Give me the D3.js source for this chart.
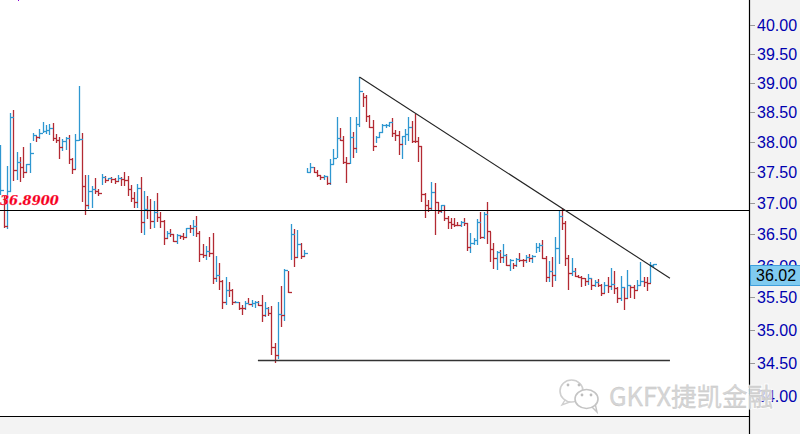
<!DOCTYPE html>
<html>
<head>
<meta charset="utf-8">
<script src="https://cdn.jsdelivr.net/npm/d3@7/dist/d3.min.js"></script>
<style>
html, body { margin: 0; padding: 0; background: #fff; overflow: hidden; }
svg { display: block; }
</style>
</head>
<body>
<svg width="800" height="434"></svg>
<script>
// bars are high / low / close, one entry per session
const highs = [37.95,37.13,37.60,38.49,38.54,37.84,37.75,37.92,37.64,37.99,
  38.15,38.10,38.22,38.34,38.29,38.30,38.32,38.14,38.09,38.05,
  38.09,38.12,37.74,38.14,38.94,38.15,37.46,37.46,37.28,37.41,
  37.23,37.47,37.44,37.41,37.42,37.41,37.46,37.42,37.51,37.44,
  37.29,37.18,37.31,37.42,37.19,37.11,37.06,37.03,37.16,36.85,
  36.73,36.55,36.58,36.50,36.50,36.48,36.52,36.60,36.65,36.73,
  36.79,36.55,36.34,36.31,36.45,36.52,36.15,36.04,35.77,35.82,
  35.74,35.63,35.44,35.43,35.38,35.44,35.49,35.46,35.44,35.44,
  35.54,35.43,35.35,35.37,34.80,35.43,35.68,35.95,35.91,36.66,
  36.58,36.57,36.36,36.25,37.57,37.65,37.59,37.54,37.46,37.46,
  37.44,37.72,37.89,38.42,38.24,38.10,37.75,38.42,38.17,38.42,
  39.10,38.83,38.79,38.45,38.37,38.10,38.17,38.30,38.30,38.34,
  38.40,38.20,38.19,38.10,38.22,38.42,38.35,38.47,38.09,37.94,
  37.16,37.05,37.34,37.33,37.02,36.97,36.97,36.79,36.76,36.76,
  36.69,36.71,36.76,36.68,36.52,36.44,36.74,36.85,36.85,37.02,
  36.53,36.36,36.23,36.25,36.34,36.18,36.10,36.04,36.12,36.20,
  36.10,36.17,36.18,36.17,36.36,36.36,36.41,36.15,36.07,36.14,
  36.45,36.89,36.92,36.71,36.17,36.12,35.96,35.85,35.84,35.80,
  35.87,35.80,35.77,35.79,35.71,35.74,35.82,35.96,35.91,35.66,
  35.84,35.66,35.93,35.69,35.69,35.77,36.06,35.82,35.82,36.06,36.02];
const lows = [37.13,36.60,36.58,37.18,37.36,37.37,37.34,37.41,37.49,37.49,
  38.02,38.00,38.05,38.15,38.14,38.12,38.02,37.99,37.72,37.85,
  37.87,37.64,37.47,37.56,38.02,37.02,36.81,36.90,36.92,37.15,
  37.11,37.29,37.33,37.37,37.33,37.31,37.34,37.28,37.28,37.11,
  37.02,36.92,36.92,36.52,36.48,36.74,36.58,36.60,36.69,36.60,
  36.33,36.42,36.45,36.37,36.34,36.42,36.41,36.44,36.52,36.47,
  36.45,36.06,36.12,36.09,36.14,35.71,35.74,35.62,35.32,35.38,
  35.51,35.38,35.41,35.31,35.23,35.31,35.40,35.35,35.34,35.37,
  35.12,35.20,35.21,34.62,34.49,34.56,35.05,35.14,35.57,36.09,
  35.98,36.12,36.10,36.14,37.49,37.51,37.49,37.42,37.37,37.37,
  37.29,37.29,37.62,37.74,38.02,37.64,37.33,37.64,37.74,37.82,
  38.25,38.59,38.34,38.24,37.85,37.99,38.07,38.15,38.24,38.25,
  38.09,38.02,37.79,37.72,37.95,38.02,37.99,37.99,37.67,37.02,
  36.76,36.85,36.89,36.48,36.82,36.84,36.71,36.58,36.58,36.61,
  36.63,36.61,36.63,36.23,36.20,36.33,36.33,36.42,36.42,36.34,
  36.06,35.95,35.93,36.04,36.04,35.99,35.91,35.95,35.98,36.06,
  35.98,36.04,36.06,36.04,36.20,36.21,36.10,35.74,35.74,35.66,
  35.76,36.02,36.57,35.99,35.62,35.84,35.82,35.80,35.66,35.68,
  35.69,35.62,35.66,35.66,35.52,35.57,35.57,35.62,35.55,35.41,
  35.44,35.31,35.48,35.49,35.48,35.62,35.68,35.66,35.60,35.73,35.96];
const closes = [37.21,36.63,37.19,38.42,37.54,37.67,37.59,37.51,37.64,37.82,
  38.12,38.09,38.15,38.19,38.20,38.24,38.07,38.04,37.92,38.02,
  38.07,37.72,37.56,38.04,38.05,37.28,36.97,37.19,37.23,37.19,
  37.16,37.42,37.37,37.41,37.39,37.36,37.41,37.39,37.38,37.23,
  37.08,37.02,37.24,36.69,36.90,36.89,36.71,36.85,36.77,36.71,
  36.44,36.52,36.50,36.39,36.48,36.47,36.46,36.60,36.59,36.63,
  36.52,36.18,36.17,36.23,36.20,35.80,35.85,35.76,35.43,35.62,
  35.61,35.43,35.43,35.34,35.33,35.41,35.40,35.41,35.43,35.38,
  35.23,35.34,35.26,34.74,34.62,35.24,35.23,35.93,35.59,36.50,
  36.14,36.34,36.15,36.20,37.51,37.59,37.51,37.46,37.42,37.44,
  37.33,37.64,37.74,38.07,38.04,37.67,37.66,38.09,37.90,38.30,
  38.86,38.76,38.44,38.25,37.94,38.09,38.17,38.29,38.29,38.34,
  38.15,38.12,37.97,38.10,38.14,38.25,38.02,38.01,37.94,37.15,
  36.97,36.92,37.18,37.02,36.87,36.97,36.76,36.69,36.66,36.65,
  36.64,36.69,36.68,36.29,36.36,36.41,36.69,36.45,36.82,36.55,
  36.26,36.12,36.21,36.14,36.17,36.01,36.09,36.01,36.10,36.09,
  36.08,36.14,36.12,36.15,36.29,36.33,36.12,35.82,35.91,35.85,
  36.28,36.79,36.68,36.12,35.88,35.91,35.84,35.82,35.80,35.76,
  35.80,35.69,35.74,35.69,35.57,35.69,35.68,35.71,35.65,35.49,
  35.66,35.49,35.69,35.66,35.62,35.69,35.76,35.74,35.73,36.01,36.02];

const tickValues = [40,39.5,39,38.5,38,37.5,37,36.5,36,35.5,35,34.5,34];
const lastPrice = closes[closes.length-1];
const levelPrice = 36.89;
const levelLabel = "36.8900";
const supportPrice = 34.54;
const supportIdx = [78.9, 205.1];
const trendIdx = [110, 205.1];
const trendPrice = [39.10, 35.80];

const upColour = "#2e97d1";
const downColour = "#b32a33";

const plotRight = 749;
const plotBottom = 416;

const svg = d3.select("svg");

// price axis is logarithmic, ticks get wider apart going down
const y = d3.scaleLog().domain([40,34]).range([25,396]);
const x = d3.scaleLinear().domain([0,200]).range([0.3,653.3]);

const px = v => Math.round(v) + 0.5;

// panel backgrounds
svg.append("rect").attr("width",800).attr("height",434).style("fill","#f3f3f3");
svg.append("rect").attr("width",plotRight).attr("height",plotBottom).style("fill","#fff");

// stray pixel at the top edge
svg.append("rect").attr("x",18).attr("y",0).attr("width",1).attr("height",1).style("fill","#8a00d8");

// bars
const bars = svg.append("g").style("stroke-width",1.3);
const barColour = i => (i == 0 || closes[i] >= closes[i-1]) ? upColour : downColour;

bars.selectAll("line.hl").data(closes).enter().append("line")
    .classed("hl", true)
    .attr("x1",(d,i)=>px(x(i)))
    .attr("x2",(d,i)=>px(x(i)))
    .attr("y1",(d,i)=>Math.round(y(highs[i])))
    .attr("y2",(d,i)=>Math.round(y(lows[i])))
    .style("stroke",(d,i)=>barColour(i));

bars.selectAll("line.close").data(closes).enter().append("line")
    .classed("close", true)
    .attr("x1",(d,i)=>px(x(i)))
    .attr("x2",(d,i)=>px(x(i))+3.5)
    .attr("y1",d=>px(y(d)))
    .attr("y2",d=>px(y(d)))
    .style("stroke",(d,i)=>barColour(i));

// drawn lines
svg.append("line")
    .attr("x1",0).attr("x2",plotRight)
    .attr("y1",px(y(levelPrice))).attr("y2",px(y(levelPrice)))
    .style("stroke","#000").style("stroke-width",1.2);

svg.append("line")
    .attr("x1",x(supportIdx[0])).attr("x2",x(supportIdx[1]))
    .attr("y1",px(y(supportPrice))).attr("y2",px(y(supportPrice)))
    .style("stroke","#333").style("stroke-width",1.4);

svg.append("line")
    .attr("x1",x(trendIdx[0])).attr("x2",x(trendIdx[1]))
    .attr("y1",y(trendPrice[0])).attr("y2",y(trendPrice[1]))
    .style("stroke","#222").style("stroke-width",1.1);

svg.append("text")
    .attr("x",0).attr("y",y(levelPrice)-5)
    .style("font-family","'DejaVu Serif'")
    .style("font-weight","bold").style("font-style","italic")
    .style("font-size","13px").style("fill","#f5001e")
    .style("stroke","#ff6078").style("stroke-width",0.25)
    .text(levelLabel);

// frame
svg.append("line").attr("x1",0).attr("x2",plotRight).attr("y1",plotBottom+0.5).attr("y2",plotBottom+0.5)
    .style("stroke","#000").style("stroke-width",1.2);
svg.append("line").attr("x1",plotRight+0.5).attr("x2",plotRight+0.5).attr("y1",0).attr("y2",434)
    .style("stroke","#000").style("stroke-width",1.2);

// price axis
const axis = svg.append("g");
axis.selectAll("line").data(tickValues).enter().append("line")
    .attr("x1",plotRight+1).attr("x2",plotRight+6)
    .attr("y1",d=>px(y(d))).attr("y2",d=>px(y(d)))
    .attr("shape-rendering","crispEdges")
    .style("stroke","#999");
axis.selectAll("text").data(tickValues).enter().append("text")
    .attr("x",757).attr("y",d=>y(d)+6)
    .style("font-family","'Liberation Sans'").style("font-size","16px")
    .style("fill","#0000b0")
    .text(d=>d.toFixed(2));

// last price box hangs below its price
svg.append("rect")
    .attr("x",plotRight+1).attr("y",Math.round(y(lastPrice))+1.5)
    .attr("width",50).attr("height",20)
    .attr("shape-rendering","crispEdges")
    .style("fill","#80cbf0").style("stroke","#3f9fdc");
svg.append("text")
    .attr("x",756).attr("y",Math.round(y(lastPrice))+17)
    .style("font-family","'Liberation Sans'").style("font-size","16px")
    .style("fill","#000")
    .text(lastPrice.toFixed(2));

// watermark, white halo knocks out the axis label underneath
const mark = svg.append("g");
const markStroke = "#cfcfcf";
mark.append("path").attr("d","M565,400 L562,405 L570,402z")
    .style("fill","#fff").style("stroke",markStroke).style("stroke-width",1.4);
mark.append("ellipse").attr("cx",571.5).attr("cy",391).attr("rx",11.5).attr("ry",11)
    .style("fill","#fff").style("stroke",markStroke).style("stroke-width",1.6);
mark.append("path").attr("d","M591,406 L597,412 L595,403z")
    .style("fill","#fff").style("stroke","#c4c4c4").style("stroke-width",1.4);
mark.append("ellipse").attr("cx",586.5).attr("cy",399).attr("rx",11.5).attr("ry",9.5)
    .style("fill","#fff").style("stroke","#c4c4c4").style("stroke-width",1.6);
mark.selectAll("circle").data([[568,385],[579,385],[582,395],[591,395]]).enter().append("circle")
    .attr("cx",d=>d[0]).attr("cy",d=>d[1]).attr("r",1.4).style("fill","#bdbdbd");

const markFont = "'Noto Sans CJK SC','Noto Sans'";
mark.append("text")
    .attr("x",609).attr("y",406)
    .style("font-family",markFont).style("font-size","25.5px")
    .style("fill","#fff").style("stroke","#fff").style("stroke-width",2.5).style("opacity",0.75)
    .text("GKFX捷凯金融");
mark.append("text")
    .attr("x",609).attr("y",406)
    .style("font-family",markFont).style("font-size","25.5px")
    .style("fill","#d6d6d6").style("stroke","#c4c4c4").style("stroke-width",0.3)
    .text("GKFX捷凯金融");
</script>
</body>
</html>
